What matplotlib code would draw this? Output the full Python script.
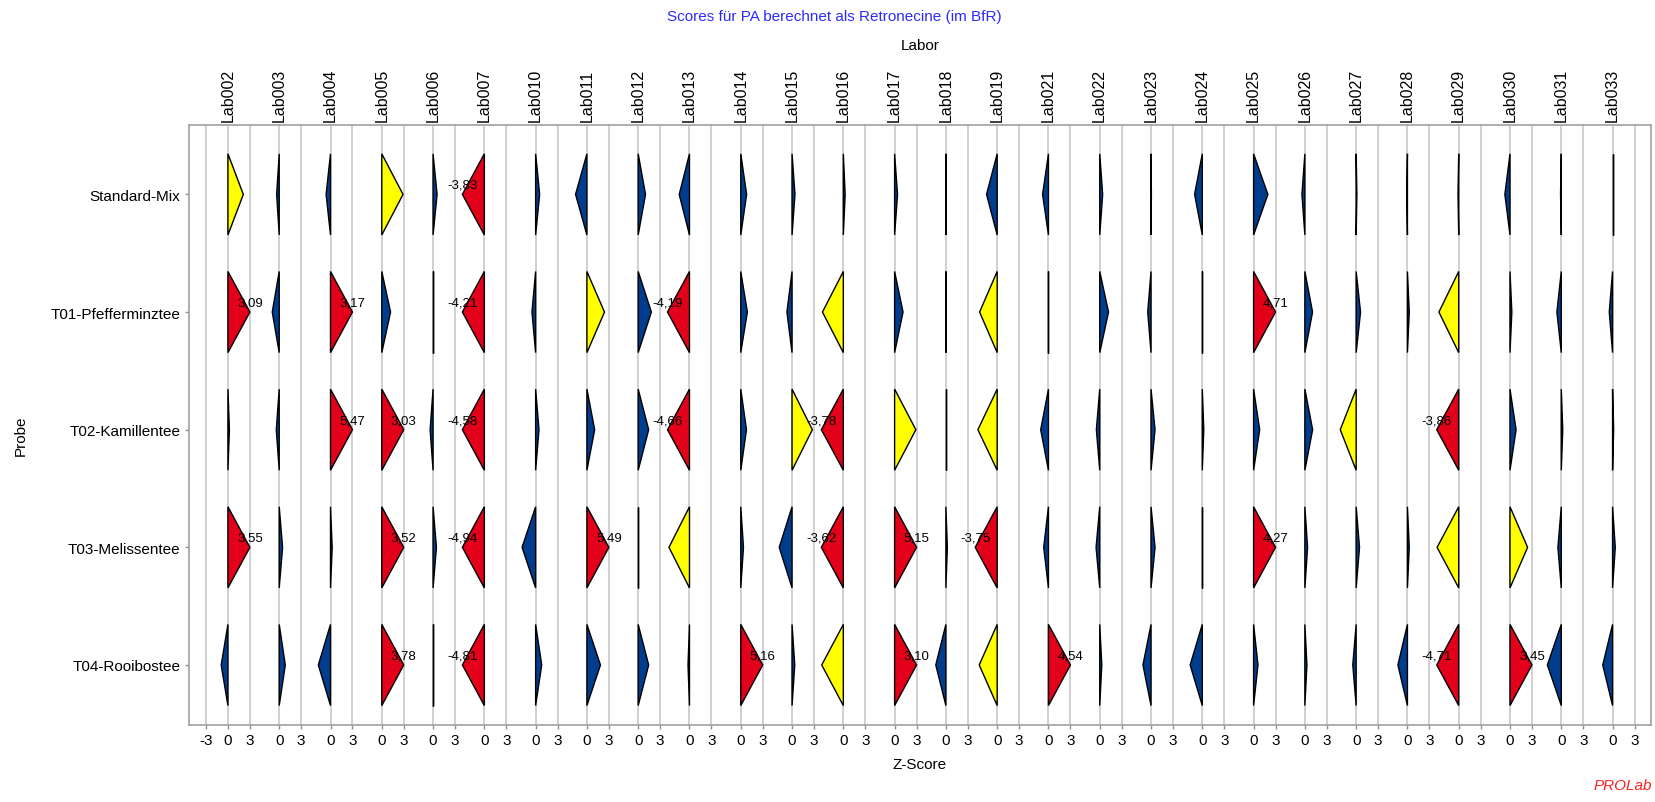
# Z-score triangle chart, labs as columns, samples as rows
import numpy as np
import matplotlib
matplotlib.use('Agg')
import matplotlib.pyplot as plt

plt.rcParams['font.family'] = ['Liberation Sans', 'DejaVu Sans']

labs = ["Lab002", "Lab003", "Lab004", "Lab005", "Lab006", "Lab007", "Lab010",
        "Lab011", "Lab012", "Lab013", "Lab014", "Lab015", "Lab016", "Lab017",
        "Lab018", "Lab019", "Lab021", "Lab022", "Lab023", "Lab024", "Lab025",
        "Lab026", "Lab027", "Lab028", "Lab029", "Lab030", "Lab031", "Lab033"]

samples = ["Standard-Mix", "T01-Pfefferminztee", "T02-Kamillentee",
           "T03-Melissentee", "T04-Rooibostee"]

# z-scores per sample, same order as labs (nan = no result)
z_std = [2.1, -0.35, -0.6, 2.9, 0.55, -3.83, 0.55, -1.55, 1.0, -1.4, 0.8, 0.4, 0.25, 0.4,
         0.05, -1.45, -0.8, 0.4, 0.05, -1.05, 1.95, -0.4, 0.1, -0.1, -0.1, -0.7, -0.1, 0.0]
z_t01 = [3.09, -0.95, 3.17, 1.2, 0.0, -4.21, -0.5, 2.4, 1.8, -4.19, 0.9, -0.7, -2.85, 1.15,
         0.05, -2.4, 0.0, 1.2, -0.45, 0.0, 4.71, 1.05, 0.6, 0.25, -2.7, 0.25, -0.6, -0.45]
z_t02 = [0.2, -0.4, 5.47, 3.03, -0.4, -4.58, 0.46, 1.06, 1.43, -4.66, 0.78, 2.77, -3.78, 2.9,
         0.0, -2.63, -1.06, -0.46, 0.55, 0.2, 0.83, 1.06, -2.17, np.nan, -3.86, 0.83, 0.2, 0.15]
z_t03 = [3.55, 0.46, 0.23, 3.52, 0.46, -4.94, -1.85, 5.49, 0.0, -2.8, 0.37, -1.75, -3.62, 5.15,
         0.2, -3.75, -0.65, -0.5, 0.55, 0.0, 4.27, 0.37, 0.46, 0.25, -2.95, 2.4, -0.46, 0.37]
z_t04 = [-0.92, 0.83, -1.66, 3.78, 0.0, -4.81, 0.83, 1.85, 1.43, -0.2, 5.16, 0.37, -2.95, 3.10,
         -1.38, -2.45, 4.54, 0.28, -1.1, -1.66, 0.6, 0.28, -0.46, -1.3, -4.71, 3.45, -1.9, -1.34]

z_all = [z_std, z_t01, z_t02, z_t03, z_t04]

step = 7      # x units per lab column
half_h = 0.345

fig = plt.figure(figsize=(16.55, 8.03), dpi=100)
ax = fig.add_axes([0.114, 0.0959, 0.8836, 0.7472])

# grid lines at 0 and 3 of each lab (and -3 for the first)
xticks = [-3]
xlabels = ["-3"]
for i in range(len(labs)):
    xticks += [i * step, i * step + 3]
    xlabels += ["0", "3"]
for x in xticks:
    ax.axvline(x, color='#c8c8c8', lw=1.2, zorder=0)

for r, zs in enumerate(z_all):
    for i, z in enumerate(zs):
        if np.isnan(z):
            continue
        x0 = i * step
        w = max(-3, min(3, z))
        if abs(z) > 3:
            col = '#e2001a'
        elif abs(z) > 2:
            col = '#ffff00'
        else:
            col = '#003d8f'
        ax.fill([x0, x0 + w, x0], [r - half_h, r, r + half_h],
                facecolor=col, edgecolor='black', lw=1.0, zorder=2)
        if abs(z) > 3:
            ax.text(x0 + w, r - 0.08, ("%.2f" % z).replace('.', ','),
                    ha='center', va='center', fontsize=9.5, zorder=3)

ax.set_xlim(-5.36, (len(labs) - 1) * step + 5.25)
ax.set_ylim(4.51, -0.59)

ax.set_xticks(xticks)
ax.set_xticklabels(xlabels)
ax.set_yticks(range(len(samples)))
ax.set_yticklabels(samples)
ax.tick_params(axis='both', colors='#909090', labelcolor='black', length=3,
               width=1, labelsize=11, pad=3)
for s in ax.spines.values():
    s.set_color('#a0a0a0')
    s.set_linewidth(1.2)

top = ax.secondary_xaxis('top')
top.set_xticks([i * step for i in range(len(labs))])
top.set_xticklabels(labs, rotation=90)
top.tick_params(length=0, pad=3, labelsize=11.5)
top.spines['top'].set_visible(False)

fig.text(0.504, 0.9788, "Scores für PA berechnet als Retronecine (im BfR)",
         color='#2b2bff', fontsize=11, ha='center', va='center')
fig.text(0.5558, 0.9427, "Labor", fontsize=11, ha='center', va='center')
fig.text(0.5558, 0.0473, "Z-Score", fontsize=11, ha='center', va='center')
fig.text(0.0127, 0.457, "Probe", fontsize=11, rotation=90, ha='center', va='center')
fig.text(0.9985, 0.0125, "PROLab", color='#ff2020', fontsize=11, style='italic',
         ha='right', va='bottom')

fig.savefig('out.png', dpi=100)
